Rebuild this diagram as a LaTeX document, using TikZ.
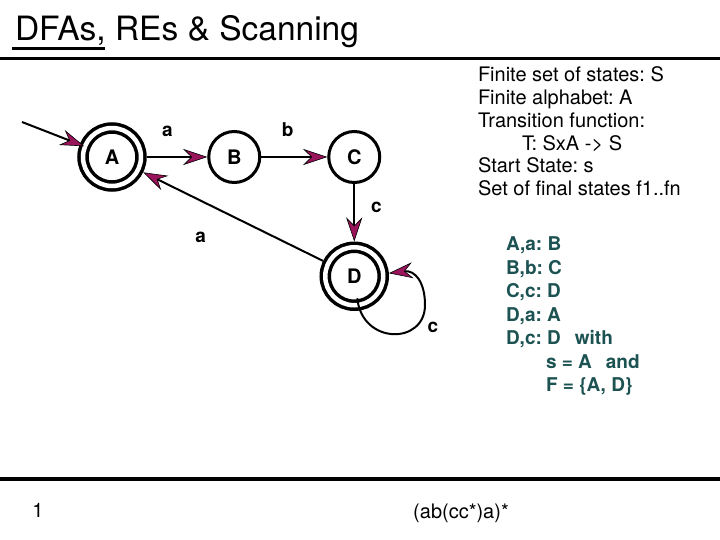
\documentclass[tikz,border=0pt]{standalone}
\usepackage{fontspec}
\setmainfont{TeX Gyre Heros}
\usetikzlibrary{positioning,arrows.meta}
\definecolor{tipcol}{RGB}{153,20,90}
\definecolor{tealtxt}{RGB}{28,82,82}
\frenchspacing

\begin{document}
\begin{tikzpicture}[
      x=1pt, y=-1pt,
      state/.style={
        circle, draw=black, line width=3pt, minimum size=51pt, inner sep=0pt,
        font=\bfseries\fontsize{20}{20}\selectfont
      },
      final/.style={state, line width=3.5pt, double, double distance=4.5pt,
        minimum size=58pt, outer sep=5.75pt},
      lbl/.style={font=\bfseries\fontsize{19}{19}\selectfont},
      txt/.style={anchor=north west, align=left, inner sep=0pt},
      >={Stealth[length=24pt, width=16pt, inset=8pt, fill=tipcol, line width=0.6pt]},
      line width=2pt
      ]
  \useasboundingbox (0,0) rectangle (720,540);

  % title and rules
  \node[anchor=base west, inner sep=0pt, font=\fontsize{33.5}{34}\selectfont] (title) at (14,41) {DFAs, REs \& Scanning};
  \draw[line width=3pt] ([shift={(-2,8)}]title.base west) -- ++(93,0);
  \draw[line width=3pt] (0,58.5) -- (720,58.5);
  \draw[line width=4pt] (0,479) -- (720,479);

  % the states
  \node[final]                      (A) at (112,157) {A};
  \node[state, right = 60.5pt of A] (B) {B};
  \node[state, right = 66pt of B]   (C) {C};
  \node[final, below = 57.5pt of C] (D) {D};
  \coordinate (start) at (22,122);

  % Connect the nodes
  \draw[->, shorten >=-5pt] (start) -- (A);
  \draw[->] (A) -- node[lbl, pos=0.34, above=15.5pt] {a} (B);
  \draw[->] (B) -- node[lbl, pos=0.4, above=15.5pt] {b} (C);
  \draw[->] (C) -- node[lbl, pos=0.4, right=12.5pt] {c} (D);
  \draw[->] (D) -- node[lbl, pos=0.68, yshift=-37pt] {a} (A);
  \draw[->] ([shift={(3,22)}]D.center) .. controls (362,345) and (425,345) .. (425,305)
        node[lbl, xshift=8pt, yshift=-22pt] {c}
        .. controls (425,282) and (415,270) .. (D.5);

  % definition text
  \node[txt, font=\fontsize{20}{22.7}\selectfont] (defs) at (477,66)
    {Finite set of states: S\\ Finite alphabet: A\\ Transition function:\\
     \hspace*{44pt}T: SxA -> S\\ Start State: s\\ Set of final states f1..fn};
  \node[txt, text=tealtxt, font=\bfseries\fontsize{19}{23.5}\selectfont] (trans) at (505,236)
    {A,a: B\\ B,b: C\\ C,c: D\\ D,a: A\\ D,c: D\hspace{14pt}with\\
     \hspace*{40pt}s = A\hspace{14pt}and\\ \hspace*{40pt}F = \{A, D\}};

  % footer
  \node[font=\fontsize{20}{20}\selectfont] (page) at (38,510) {1};
  \node[font=\fontsize{20}{20}\selectfont] (regex) at (461,513) {(ab(cc*)a)*};
\end{tikzpicture}
\end{document}
